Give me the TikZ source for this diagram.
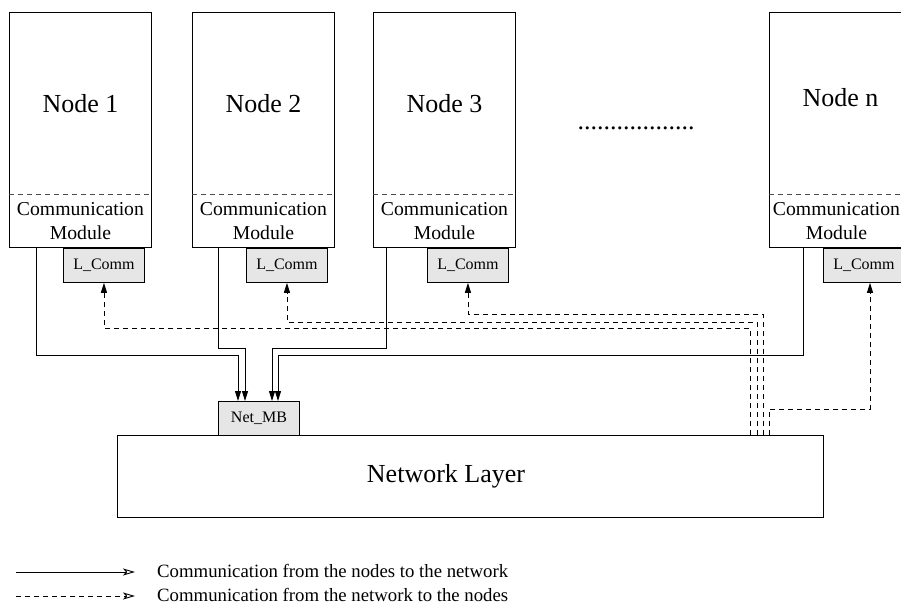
\documentclass[tikz,border=0pt]{standalone}
\usepackage{fontspec}
\setmainfont{Liberation Serif}
\usetikzlibrary{arrows.meta,calc}

\definecolor{boxgray}{HTML}{E6E6E6}

\tikzset{
  base/.style={line width=0.9pt},
  nodebox/.style={base, draw, anchor=north west, minimum width=142pt, minimum height=235pt, inner sep=0pt},
  nodelabel/.style={font=\fontsize{26}{30}\selectfont, inner sep=0pt},
  sepline/.style={base, dash pattern=on 5pt off 4pt, draw=black!70},
  cmtext/.style={font=\fontsize{19.7}{24}\selectfont, align=center, inner sep=0pt},
  smallbox/.style={base, draw, fill=boxgray, anchor=north west, minimum width=81pt, minimum height=34pt, inner sep=0pt, font=\fontsize{16}{18}\selectfont},
  netbox/.style={base, draw, anchor=north west, minimum width=706pt, minimum height=82pt, inner sep=0pt},
  flow/.style={base, -{Triangle[length=10pt,width=6pt]}},
  back/.style={base, dash pattern=on 5pt off 4pt, -{Triangle[length=10pt,width=6pt]}},
  legtext/.style={font=\fontsize{18.75}{22}\selectfont, anchor=base west, inner sep=0pt},
  legtip/.style={-{Stealth[open,length=12pt,width=7pt,inset=3pt]}}
}

\begin{document}
\begin{tikzpicture}[x=1pt,y=-1pt]
\useasboundingbox (0,0) rectangle (901,604);
\clip (0,0) rectangle (901,604);

% the computing nodes with their communication modules and local mailboxes
% (y grows downwards, so positive y offsets move down)
\foreach \i/\x/\lab/\ly/\cx in {1/9/Node 1/92/0, 2/192/Node 2/92/0, 3/373/Node 3/92/0, n/769/Node n/86/-4} {
  \node[nodebox] (n\i) at (\x,12) {};
  \node[nodelabel] (t\i) at ($(n\i.north)+(0,\ly)$) {\lab};
  \draw[sepline] ($(n\i.north west)+(0,182)$) -- ($(n\i.north east)+(0,182)$);
  \node[cmtext] (c\i) at ($(n\i.south)+(\cx,-27)$) {Communication\\Module};
  \node[smallbox] (l\i) at ($(n\i.south west)+(54,0)$) {L\_Comm};
}

\node[nodelabel] (dots) at (636,128) {..................};

% network layer and its mailbox
\node[netbox] (net) at (117,435) {};
\node[nodelabel] (nt) at (446,476) {Network Layer};
\node[smallbox] (mb) at (218,401) {Net\_MB};

% routing levels
\coordinate (hA) at (0,355);
\coordinate (hB) at (0,348);
\coordinate (g1) at (0,328);
\coordinate (g2) at (0,322);
\coordinate (g3) at (0,314);
\coordinate (g4) at (0,409);

% nodes to network
\coordinate (s1) at ($(n1.south west)+(27,0)$);
\coordinate (s2) at ($(n2.south west)+(26,0)$);
\coordinate (s3) at ($(n3.south west)+(13,0)$);
\coordinate (s4) at ($(nn.south west)+(34,0)$);
\draw[flow] (s1) -- (s1 |- hA) -| ($(mb.north west)+(20,0)$);
\draw[flow] (s2) -- (s2 |- hB) -| ($(mb.north west)+(27,0)$);
\draw[flow] (s3) -- (s3 |- hB) -| ($(mb.north west)+(54,0)$);
\draw[flow] (s4) -- (s4 |- hA) -| ($(mb.north west)+(60,0)$);

% network to nodes
\coordinate (u1) at ($(net.north west)+(633,0)$);
\coordinate (u2) at ($(net.north west)+(640,0)$);
\coordinate (u3) at ($(net.north west)+(646,0)$);
\coordinate (u4) at ($(net.north west)+(652,0)$);
\draw[back] (u1) -- (u1 |- g1) -| (l1.south);
\draw[back] (u2) -- (u2 |- g2) -| (l2.south);
\draw[back] (u3) -- (u3 |- g3) -| (l3.south);
\draw[back] (u4) -- (u4 |- g4) -| ($(ln.south west)+(47,0)$);

% legend
\coordinate (la0) at (16,572);
\coordinate (la1) at (135,572);
\coordinate (lb0) at (16,596);
\coordinate (lb1) at (135,596);
\draw[base, legtip] (la0) -- (la1);
\draw[base, dash pattern=on 5pt off 4pt, legtip] (lb0) -- (lb1);
\node[legtext] (lg1) at (157,577) {Communication from the nodes to the network};
\node[legtext] (lg2) at (157,601) {Communication from the network to the nodes};
\end{tikzpicture}
\end{document}
